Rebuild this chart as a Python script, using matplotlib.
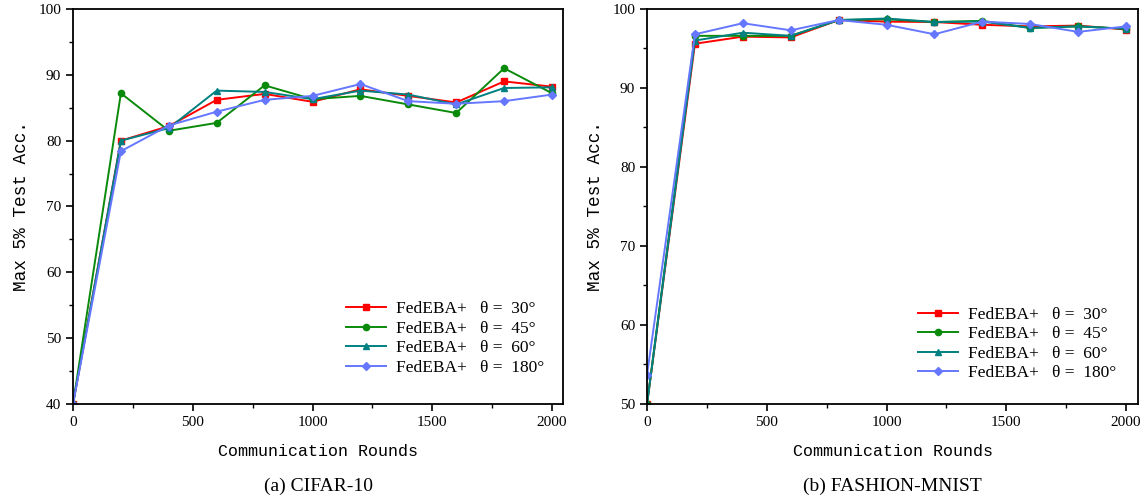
import numpy as np
import matplotlib.pyplot as plt
from matplotlib.ticker import MultipleLocator

rounds = [0, 200, 400, 600, 800, 1000, 1200, 1400, 1600, 1800, 2000]
labels = ["FedEBA+   θ =  30°", "FedEBA+   θ =  45°", "FedEBA+   θ =  60°", "FedEBA+   θ =  180°"]

# (a) CIFAR-10
cifar_30 = [40, 80.0, 82.2, 86.2, 87.1, 85.9, 87.8, 86.8, 85.8, 89.0, 88.2]
cifar_45 = [40, 87.2, 81.5, 82.7, 88.4, 86.3, 86.8, 85.5, 84.2, 91.0, 87.2]
cifar_60 = [40, 80.0, 81.9, 87.6, 87.4, 86.3, 87.6, 87.0, 85.5, 88.0, 88.1]
cifar_180 = [40, 78.4, 82.3, 84.4, 86.2, 86.8, 88.6, 86.0, 85.6, 86.0, 87.0]

# (b) FASHION-MNIST
fmnist_30 = [50, 95.6, 96.5, 96.4, 98.6, 98.4, 98.35, 98.0, 97.8, 97.9, 97.4]
fmnist_45 = [50, 96.6, 96.6, 96.6, 98.6, 98.7, 98.35, 98.5, 97.6, 97.8, 97.5]
fmnist_60 = [50, 96.0, 97.0, 96.6, 98.6, 98.8, 98.35, 98.4, 97.6, 97.8, 97.5]
fmnist_180 = [53.7, 96.8, 98.2, 97.3, 98.6, 98.0, 96.8, 98.4, 98.1, 97.1, 97.8]

colors = ['#ff0000', '#0a8a0a', '#008080', '#6677ff']
markers = ['s', 'o', '^', 'D']
msizes = [4.5, 4.5, 5, 4.5]

mono = 'Liberation Mono'
serif = 'Liberation Serif'

fig = plt.figure(figsize=(11.46, 4.99), dpi=100)
ax1 = fig.add_axes([0.0637, 0.1904, 0.4276, 0.7916])
ax2 = fig.add_axes([0.5646, 0.1904, 0.4284, 0.7916])

panels = [
    (ax1, [cifar_30, cifar_45, cifar_60, cifar_180], (40, 100), 2046, '(a) CIFAR-10', (0.539, 0.166)),
    (ax2, [fmnist_30, fmnist_45, fmnist_60, fmnist_180], (50, 100), 2050, '(b) FASHION-MNIST', (0.534, 0.152)),
]

for ax, series, ylim, xmax, caption, leg_pos in panels:
    for vals, c, m, ms, lab in zip(series, colors, markers, msizes, labels):
        ax.plot(rounds, vals, color=c, marker=m, markersize=ms, linewidth=1.4, label=lab)
    ax.set_xlim(0, xmax)
    ax.set_ylim(*ylim)
    ax.xaxis.set_major_locator(MultipleLocator(500))
    ax.xaxis.set_minor_locator(MultipleLocator(250))
    ax.yaxis.set_major_locator(MultipleLocator(10))
    ax.yaxis.set_minor_locator(MultipleLocator(5))
    ax.tick_params(which='major', direction='out', length=5, width=1.2)
    ax.tick_params(which='minor', direction='out', length=3, width=1.0)
    for lab in ax.get_xticklabels() + ax.get_yticklabels():
        lab.set_fontfamily(serif)
        lab.set_fontsize(11)
    for sp in ax.spines.values():
        sp.set_linewidth(1.3)
    ax.set_xlabel('Communication Rounds', fontfamily=mono, fontsize=12, labelpad=11)
    ax.set_ylabel('Max 5% Test Acc.', fontfamily=mono, fontsize=12.8, labelpad=6)
    ax.text(0.5, -0.187, caption, transform=ax.transAxes, ha='center', va='top',
            fontfamily=serif, fontsize=14)
    ax.legend(loc='center left', bbox_to_anchor=leg_pos, frameon=False, borderpad=0,
              handlelength=2.3, handletextpad=0.6, labelspacing=0.2,
              prop={'family': serif, 'size': 12.5})

fig.savefig('out.png', dpi=100)
